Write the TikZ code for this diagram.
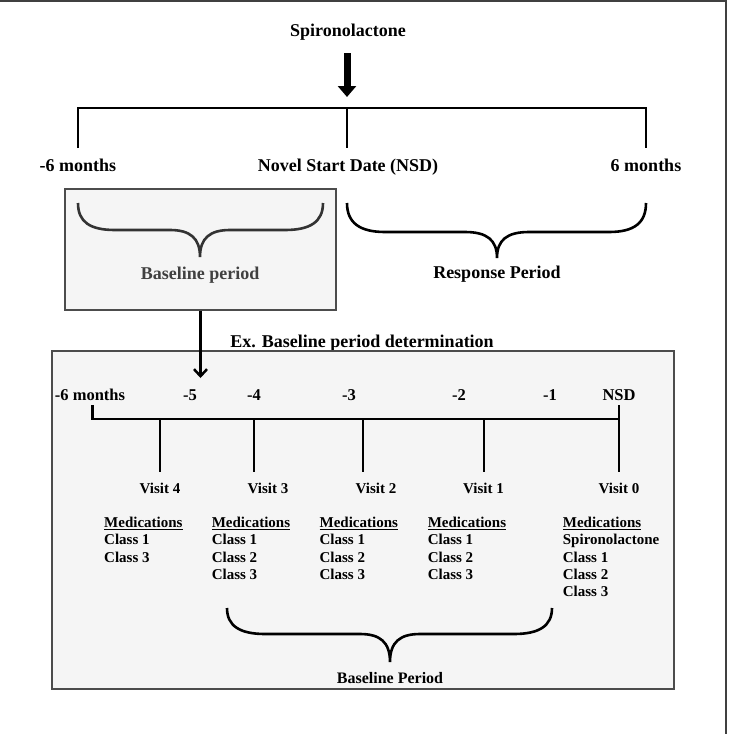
\documentclass[tikz,border=0pt]{standalone}
\usepackage{fontspec}
\setmainfont{Liberation Serif}
\usetikzlibrary{arrows.meta}
\begin{document}
\begin{tikzpicture}[x=1pt,y=-1pt,
  lbl/.style={inner sep=0pt, font=\bfseries\fontsize{18}{20}\selectfont, anchor=base},
  sm/.style={inner sep=0pt, font=\bfseries\fontsize{15}{17.3}\selectfont, anchor=base},
  mid/.style={inner sep=0pt, font=\bfseries\fontsize{16.5}{19}\selectfont, anchor=base},
  med/.style={inner sep=0pt, font=\bfseries\fontsize{15}{17.3}\selectfont, anchor=north west, align=left},
  bar/.style={line width=2.8pt},
  tl/.style={line width=2.3pt},
  bracel/.style={line width=2.6pt},
  panel/.style={draw=black!70, fill=black!4, line width=1.2pt, inner sep=0pt}]
\useasboundingbox (0,0) rectangle (729,734);
% outer frame (top and right edges)
\draw[black!75, line width=1.5pt] (0,0.75) -- (726,0.75) -- (726,734);

% top section
\node[lbl] (spiro) at (348,36) {Spironolactone};
\coordinate (aTop) at (347,53);
\coordinate (aBot) at (347,97);
\draw[line width=7pt, -{Triangle[width=18pt,length=11pt]}] (aTop) -- (aBot);

\coordinate (bL) at (78,108);
\coordinate (bM) at (347,108);
\coordinate (bR) at (646,108);
\coordinate (bLb) at (78,148);
\coordinate (bMb) at (347,148);
\coordinate (bRb) at (646,148);
\draw[bar] (bLb) -- (bL) -- (bR) -- (bRb);
\draw[bar] (bM) -- (bMb);

\node[lbl] (m6) at (78,171) {-6 months};
\node[lbl] (nsd) at (348,171) {Novel Start Date (NSD)};
\node[lbl] (p6) at (646,171) {6 months};

% upper baseline box
\node[panel, minimum width=271pt, minimum height=121pt] (ubox) at (200.5,249.5) {};
\draw[bracel, black!80] (78,203) .. controls (78,222) and (90,230) .. (115,230) -- (170,230)
  .. controls (190,230) and (200,238) .. (200,257)
  .. controls (200,238) and (210,230) .. (230,230) -- (285,230)
  .. controls (310,230) and (323,222) .. (323,203);
\node[lbl, text=black!75] (bp) at (200,279) {Baseline period};

% response brace
\draw[bracel] (347,203) .. controls (347,223) and (360,232) .. (385,232) -- (465,232)
  .. controls (487,232) and (497,240) .. (497,258)
  .. controls (497,240) and (507,232) .. (529,232) -- (609,232)
  .. controls (634,232) and (646,223) .. (646,203);
\node[lbl] (rp) at (497,278) {Response Period};

\node[lbl] (ex) at (362,347) {Ex. Baseline period determination};

% lower box
\node[panel, minimum width=622pt, minimum height=338pt] (lbox) at (363,520) {};

% arrow down into example box
\coordinate (arrEnd) at (200.5,378);
\draw[line width=2.5pt, -{Straight Barb[length=7pt,width=13pt]}] (ubox.south) -- (arrEnd);

% timeline
\coordinate (t0top) at (92.5,405);
\coordinate (t0) at (92.5,419);
\coordinate (tN) at (619,419);
\coordinate (tNtop) at (619,405);
\coordinate (tNbot) at (619,472);
\draw[tl] (t0top) -- (t0) -- (tN);
\draw[tl] (tNtop) -- (tNbot);
\foreach \x/\n in {160/a,254/b,362.7/c,484/d}{
  \coordinate (tk\n) at (\x,419);
  \coordinate (tkb\n) at (\x,472);
  \draw[tl] (tk\n) -- (tkb\n);
}

\node[mid] (l6) at (90,400) {-6 months};
\node[mid] (l5) at (190,400) {-5};
\node[mid] (l4) at (254,400) {-4};
\node[mid] (l3) at (349,400) {-3};
\node[mid] (l2) at (459,400) {-2};
\node[mid] (l1) at (550,400) {-1};
\node[mid] (lN) at (619,400) {NSD};

\node[sm] (v4) at (160,493) {Visit 4};
\node[sm] (v3) at (268,493) {Visit 3};
\node[sm] (v2) at (376,493) {Visit 2};
\node[sm] (v1) at (483.5,493) {Visit 1};
\node[sm] (v0) at (619,493) {Visit 0};

\node[med] (md4) at (104,516.8) {\underline{Medications}\\Class 1\\Class 3};
\node[med] (md3) at (211.6,516.8) {\underline{Medications}\\Class 1\\Class 2\\Class 3};
\node[med] (md2) at (319.4,516.8) {\underline{Medications}\\Class 1\\Class 2\\Class 3};
\node[med] (md1) at (427.6,516.8) {\underline{Medications}\\Class 1\\Class 2\\Class 3};
\node[med] (md0) at (562.7,516.8) {\underline{Medications}\\Spironolactone\\Class 1\\Class 2\\Class 3};

% lower brace
\draw[bracel] (227,608) .. controls (227,626) and (240,634) .. (265,634) -- (360,634)
  .. controls (380,634) and (390,642) .. (390,662)
  .. controls (390,642) and (400,634) .. (420,634) -- (514,634)
  .. controls (539,634) and (552,626) .. (552,608);
\node[inner sep=0pt, font=\bfseries\fontsize{16}{18}\selectfont, anchor=base] (blp) at (390,683) {Baseline Period};
\end{tikzpicture}
\end{document}
